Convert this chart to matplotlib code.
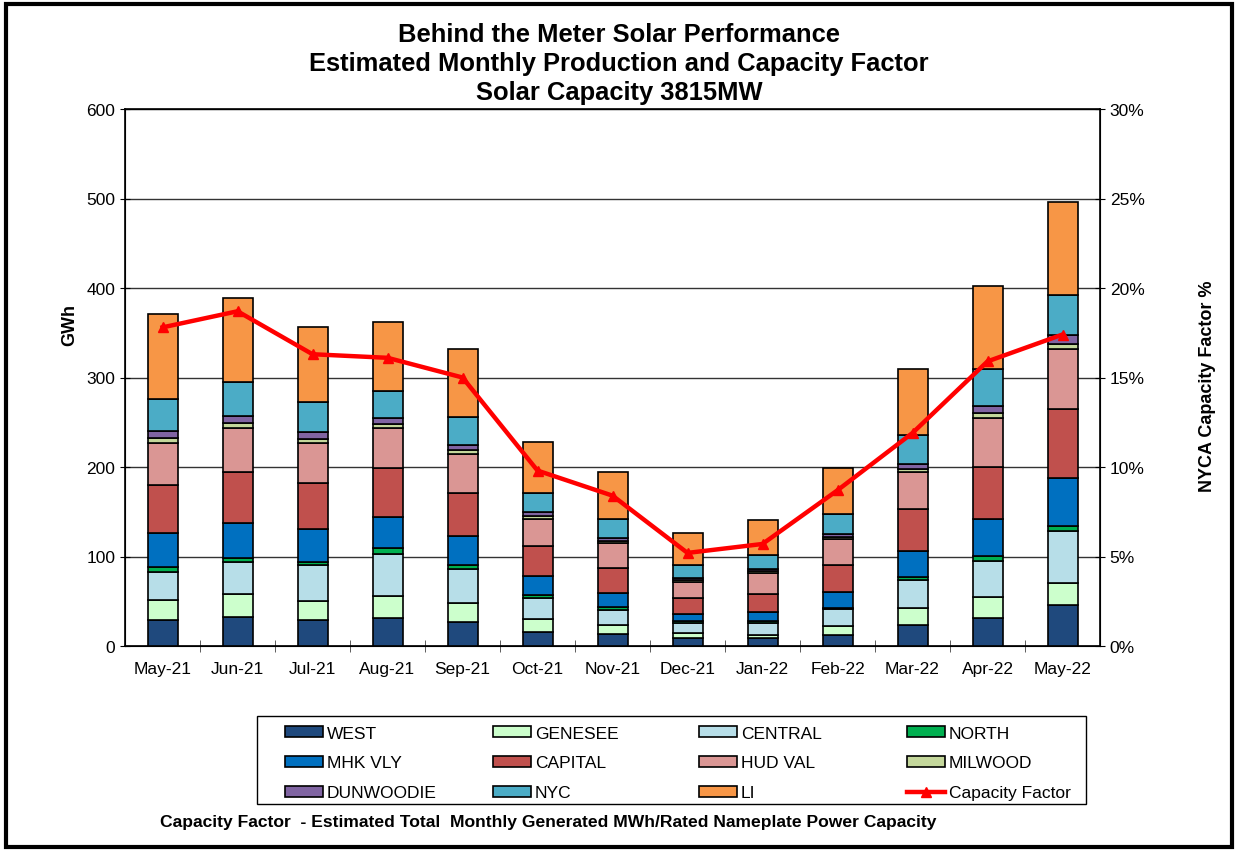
import matplotlib
matplotlib.use("Agg")
import matplotlib.pyplot as plt
import numpy as np
from matplotlib.patches import Rectangle

months = ["May-21", "Jun-21", "Jul-21", "Aug-21", "Sep-21", "Oct-21", "Nov-21",
          "Dec-21", "Jan-22", "Feb-22", "Mar-22", "Apr-22", "May-22"]

# Monthly production by zone (GWh)
west      = [28.7, 32.8, 28.7, 31.3, 26.9, 16.0, 13.1, 8.6, 8.6, 12.7, 23.5, 31.3, 45.5]
genesee   = [22.8, 25.0, 21.7, 24.7, 21.6, 13.9, 10.4, 5.6, 4.1, 9.7, 18.7, 23.6, 24.6]
central   = [31.7, 35.5, 40.3, 46.6, 37.7, 23.5, 16.8, 11.9, 13.4, 18.6, 31.3, 40.2, 57.9]
north     = [5.6, 5.2, 3.7, 6.4, 4.5, 3.7, 3.4, 1.9, 1.9, 1.5, 3.7, 5.6, 5.6]
mhk_vly   = [37.3, 38.4, 36.2, 35.4, 32.1, 21.3, 15.6, 8.2, 10.1, 18.3, 28.4, 41.1, 54.5]
capital   = [54.1, 57.5, 51.1, 54.5, 48.1, 33.5, 28.0, 17.2, 20.1, 29.5, 47.0, 58.6, 77.2]
hud_val   = [46.3, 49.3, 44.8, 44.8, 43.3, 29.9, 27.3, 18.2, 23.1, 29.1, 41.4, 54.5, 66.8]
milwood   = [6.0, 5.9, 4.5, 4.4, 4.8, 3.3, 2.6, 1.9, 2.3, 1.9, 4.1, 5.9, 5.2]
dunwoodie = [7.8, 7.9, 7.8, 6.4, 6.0, 4.2, 3.7, 3.0, 2.2, 3.7, 4.9, 7.5, 9.7]
nyc       = [35.8, 37.3, 34.3, 30.9, 31.3, 21.6, 21.3, 14.2, 15.7, 22.4, 32.8, 40.7, 45.5]
li        = [94.8, 94.4, 83.6, 76.5, 75.8, 57.5, 52.2, 35.4, 38.8, 51.1, 73.5, 93.2, 103.6]

capacity_factor = [17.8, 18.7, 16.3, 16.1, 15.0, 9.8, 8.4, 5.2, 5.7, 8.7, 11.9, 15.9, 17.4]

zones = ["WEST", "GENESEE", "CENTRAL", "NORTH", "MHK VLY", "CAPITAL",
         "HUD VAL", "MILWOOD", "DUNWOODIE", "NYC", "LI"]
series = [west, genesee, central, north, mhk_vly, capital, hud_val,
          milwood, dunwoodie, nyc, li]
colors = ["#1F497D", "#CCFFCC", "#B7DEE8", "#00B050", "#0070C0", "#C0504D",
          "#DA9694", "#C4D79B", "#8064A2", "#4BACC6", "#F79646"]

plt.rcParams['font.family'] = ['Liberation Sans', 'DejaVu Sans']

W, H = 1238, 853
fig = plt.figure(figsize=(W / 100, H / 100), dpi=100)
ax = fig.add_axes([125 / W, 1 - 647 / H, (1100 - 125) / W, (647 - 110) / H])

x = np.arange(len(months))
bottom = np.zeros(len(months))
handles = {}
for name, vals, c in zip(zones, series, colors):
    v = np.array(vals)
    b = ax.bar(x, v, 0.4, bottom=bottom, color=c, edgecolor="black",
               linewidth=1.2, label=name, zorder=3)
    handles[name] = b
    bottom += v

ax.set_ylim(0, 600)
ax.set_xlim(-0.5, len(months) - 0.5)
ax.set_yticks(np.arange(0, 601, 100))
ax.set_xticks(x)
ax.set_xticklabels(months, fontsize=12.5)
ax.tick_params(axis='x', which='major', length=0, pad=11)
ax.set_xticks(np.arange(0.5, len(months) - 0.5, 1), minor=True)
ax.tick_params(axis='x', which='minor', length=8, direction='inout', color='#444444')
ax.tick_params(axis='y', labelsize=12.5, length=7, direction='inout')
ax.yaxis.grid(True, color='#333333', linewidth=1.0, zorder=0)
ax.set_axisbelow(True)
for s in ax.spines.values():
    s.set_linewidth(1.2)

ax2 = ax.twinx()
ax2.set_ylim(0, 30)
ax2.set_yticks(np.arange(0, 31, 5))
ax2.set_yticklabels([f"{v}%" for v in range(0, 31, 5)])
ax2.tick_params(axis='y', labelsize=12.5, length=7, direction='inout')
line, = ax2.plot(x, capacity_factor, color="#FF0000", linewidth=3.2,
                 marker='^', markersize=7, zorder=5, label="Capacity Factor")

fig.text(70 / W, 1 - 325 / H, "GWh", rotation=90, ha='center', va='center',
         fontsize=13, fontweight='bold')
fig.text(1207 / W, 1 - 386 / H, "NYCA Capacity Factor %", rotation=90,
         ha='center', va='center', fontsize=13, fontweight='bold')

fig.text(0.5, 1 - 35 / H, "Behind the Meter Solar Performance", ha='center',
         va='center', fontsize=18.4, fontweight='bold')
fig.text(0.5, 1 - 64 / H, "Estimated Monthly Production and Capacity Factor",
         ha='center', va='center', fontsize=18.4, fontweight='bold')
fig.text(0.5, 1 - 93 / H, "Solar Capacity 3815MW", ha='center', va='center',
         fontsize=18.4, fontweight='bold')

# Legend: four columns placed like the reference, inside one frame
columns = [["WEST", "MHK VLY", "DUNWOODIE"],
           ["GENESEE", "CAPITAL", "NYC"],
           ["CENTRAL", "HUD VAL", "LI"],
           ["NORTH", "MILWOOD", "Capacity Factor"]]
col_x = [285, 493, 699, 907]
for names, cx in zip(columns, col_x):
    hs = [line if n == "Capacity Factor" else handles[n] for n in names]
    fig.legend(hs, names, loc='center left',
               bbox_to_anchor=(cx / W, 1 - 764 / H),
               frameon=False, fontsize=12.5, handlelength=2.2,
               handleheight=0.55, handletextpad=0.2, labelspacing=0.86,
               borderpad=0, borderaxespad=0)
fig.patches.append(Rectangle((257 / W, 1 - 805 / H), (1086 - 257) / W, 88 / H,
                             transform=fig.transFigure, fill=False,
                             edgecolor='black', linewidth=1.0))

fig.text(548 / W, 1 - 823 / H,
         "Capacity Factor  - Estimated Total  Monthly Generated MWh/Rated Nameplate Power Capacity",
         ha='center', va='center', fontsize=12.6, fontweight='bold')

fig.patches.append(Rectangle((6 / W, 5 / H), 1226 / W, 843 / H,
                             transform=fig.transFigure, fill=False,
                             edgecolor='black', linewidth=3))

fig.savefig("out.png", dpi=100)
